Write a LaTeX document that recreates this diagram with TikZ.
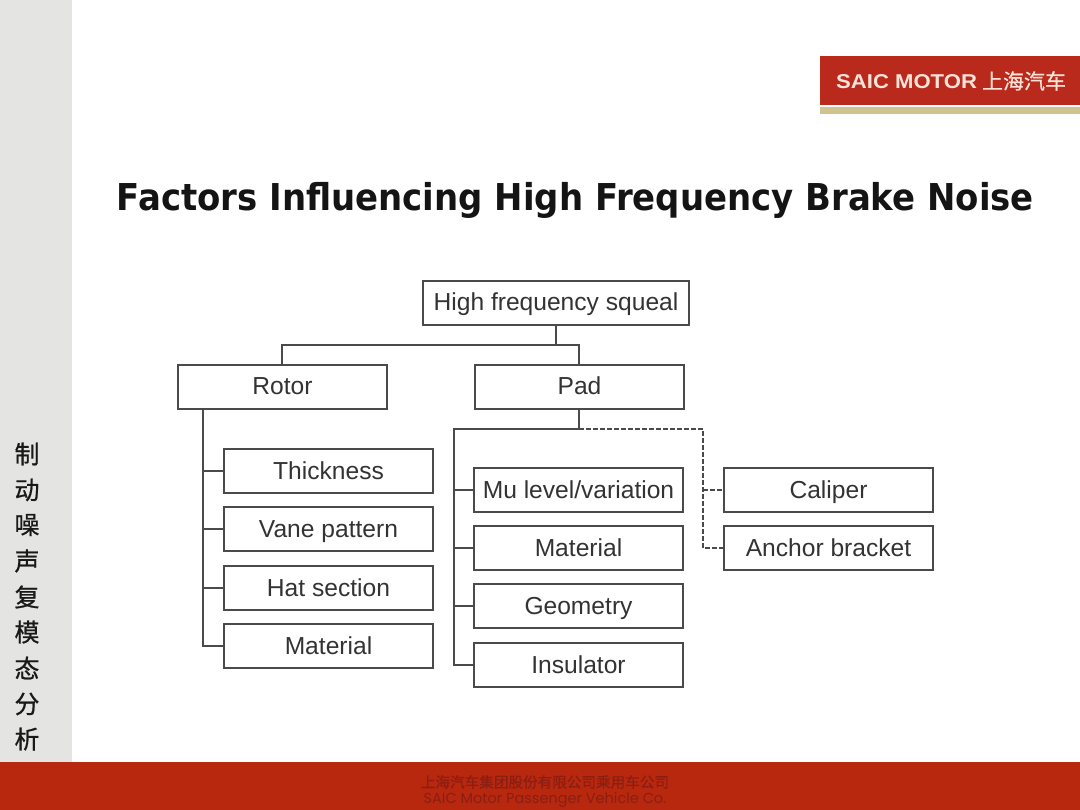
\documentclass[tikz,border=0pt]{standalone}
\usepackage{fontspec}
\setmainfont{Liberation Sans}
\newfontfamily\cjkfont{Noto Sans CJK SC}
\newfontfamily\cjkheavy[FakeBold=0.7]{Noto Sans CJK SC}
\newfontfamily\footcjk[FakeBold=0.5]{Noto Sans CJK SC}
\newfontfamily\titlefont{DejaVu Sans}
\newfontfamily\footfont{Poppins}
\definecolor{sidegray}{HTML}{E4E4E2}
\definecolor{brickred}{HTML}{B92A1C}
\definecolor{bandtan}{HTML}{CFC48F}
\definecolor{footred}{HTML}{B7280F}
\definecolor{footink}{HTML}{8A1E12}
\definecolor{boxline}{HTML}{4A4A4A}
\definecolor{boxtext}{HTML}{333333}
\definecolor{logotext}{HTML}{FBE3DA}
\tikzset{
  fbox/.style={draw=boxline,line width=2pt,fill=white,inner sep=0pt,text=boxtext,
    minimum width=209pt,minimum height=44pt,text height=20pt,text depth=4pt,
    font=\fontsize{24.6}{24.6}\selectfont},
  conn/.style={draw=boxline,line width=2pt},
  dconn/.style={draw=boxline,line width=1.7pt,dash pattern=on 5pt off 2pt},
  sidechar/.style={font=\fontsize{25}{25}\selectfont\cjkheavy,text=black!90},
  footline/.style={text=footink,inner sep=0pt}
}
\begin{document}
\begin{tikzpicture}[x=1pt,y=-1pt]
\useasboundingbox (0,0) rectangle (1080,810);
\fill[white] (0,0) rectangle (1080,810);
\fill[sidegray] (0,0) rectangle (72,762);
\fill[footred] (0,762) rectangle (1080,810);
% logo
\fill[brickred] (820,56) rectangle (1080,105);
\fill[bandtan] (820,107) rectangle (1080,114);
\node[text=logotext,inner sep=0pt,anchor=base west] (logo) at (836,89) {\scalebox{1.105}[1]{\fontsize{20}{20}\selectfont\bfseries SAIC MOTOR}\hspace{5pt}{\fontsize{21}{21}\selectfont\cjkheavy 上海汽车}};
% title
\node[inner sep=0pt,text=black!92,anchor=base] (title) at (575.5,211) {\resizebox{917pt}{\height}{\fontsize{37}{37}\selectfont\titlefont\bfseries Factors Influencing High Frequency Brake Noise}};
% side characters
\node[sidechar] (s1) at (27,454) {制};
\node[sidechar] (s2) at (27,490) {动};
\node[sidechar] (s3) at (27,525) {噪};
\node[sidechar] (s4) at (27,561) {声};
\node[sidechar] (s5) at (27,597) {复};
\node[sidechar] (s6) at (27,632) {模};
\node[sidechar] (s7) at (27,668) {态};
\node[sidechar] (s8) at (27,704) {分};
\node[sidechar] (s9) at (27,739) {析};
% footer
\node[footline] (f1) at (545,782) {\fontsize{14.6}{14.6}\selectfont\footcjk 上海汽车集团股份有限公司乘用车公司};
\node[footline] (f2) at (545,800) {\fontsize{14.5}{14.5}\selectfont\footfont SAIC Motor Passenger Vehicle Co.};
% boxes
\node[fbox,minimum width=266pt] (top) at (556,303) {High frequency squeal};
\node[fbox] (rotor) at (282.5,387) {Rotor};
\node[fbox] (pad) at (579.5,387) {Pad};
\node[fbox] (thick) at (328.5,471) {Thickness};
\node[fbox] (vane) at (328.5,529) {Vane pattern};
\node[fbox] (hat) at (328.5,588) {Hat section};
\node[fbox] (rmat) at (328.5,646) {Material};
\node[fbox] (mu) at (578.5,490) {Mu level/variation};
\node[fbox] (pmat) at (578.5,548) {Material};
\node[fbox] (geom) at (578.5,606) {Geometry};
\node[fbox] (insul) at (578.5,665) {Insulator};
\node[fbox] (cal) at (828.5,490) {Caliper};
\node[fbox] (anchor) at (828.5,548) {Anchor bracket};
% junction coordinates
\coordinate (bus) at (556,345);
\coordinate (rtop) at (282,345);
\coordinate (ptop) at (579,345);
\coordinate (rstem) at (203,409);
\coordinate (pbus) at (579,429);
\coordinate (pstem) at (454,429);
\coordinate (dstem) at (703,429);
% connectors
\draw[conn] (top.south) -- (bus);
\draw[conn] (rtop |- rotor.north) -- (rtop) -- (ptop) -- (ptop |- pad.north);
\draw[conn] (rstem) |- (rmat.west);
\draw[conn] (rstem |- thick.west) -- (thick.west);
\draw[conn] (rstem |- vane.west) -- (vane.west);
\draw[conn] (rstem |- hat.west) -- (hat.west);
\draw[conn] (pbus |- pad.south) -- (pbus) -- (pstem) |- (insul.west);
\draw[conn] (pstem |- mu.west) -- (mu.west);
\draw[conn] (pstem |- pmat.west) -- (pmat.west);
\draw[conn] (pstem |- geom.west) -- (geom.west);
\draw[dconn] (pbus) -- (dstem) |- (anchor.west);
\draw[dconn] (dstem |- cal.west) -- (cal.west);
\end{tikzpicture}
\end{document}
